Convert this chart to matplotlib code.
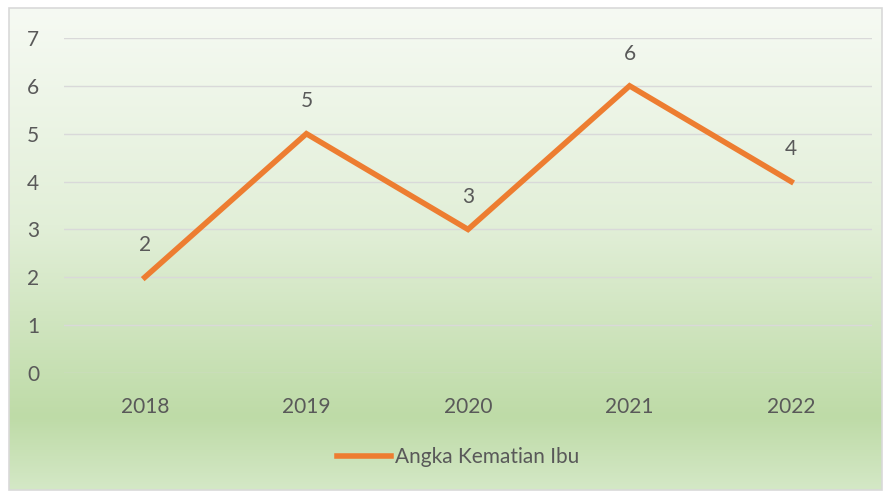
import numpy as np
import matplotlib.pyplot as plt
from matplotlib.colors import LinearSegmentedColormap
from matplotlib.patches import Rectangle

years = ["2018", "2019", "2020", "2021", "2022"]
deaths = [2, 5, 3, 6, 4]
series_name = "Angka Kematian Ibu"

plt.rcParams['font.family'] = ['Lato', 'DejaVu Sans']
text_color = "#595959"
line_color = "#ED7D31"

fig = plt.figure(figsize=(8.9, 4.93), dpi=100)

# gradient background inside the chart border
bg = fig.add_axes([0, 0, 1, 1], zorder=-10)
bg.set_xlim(0, 890)
bg.set_ylim(493, 0)
bg.axis("off")
cmap = LinearSegmentedColormap.from_list(
    "bg", [(0, "#f6faf3"), (0.45, "#e2efd8"), (0.85, "#bedba7"), (1.0, "#d4e8c6")])
grad = np.linspace(0, 1, 256).reshape(-1, 1)
bg.imshow(grad, cmap=cmap, extent=[9, 882, 490, 8], aspect="auto")
bg.add_patch(Rectangle((9, 8), 873, 482, fill=False, edgecolor="#d9d9d9", lw=1.2))

ax = fig.add_axes([64 / 890, 1 - 373 / 493, (872 - 64) / 890, (373 - 38) / 493])
ax.patch.set_alpha(0)
x = np.arange(len(years))
ax.plot(x, deaths, color=line_color, lw=4, solid_joinstyle="miter", label=series_name, zorder=3)
for xi, v in zip(x, deaths):
    ax.annotate(str(v), (xi, v), xytext=(0, 16), textcoords="offset points",
                ha="center", va="bottom", fontsize=15, color=text_color)

ax.set_xlim(-0.5, len(years) - 0.5)
ax.set_ylim(0, 7)
ax.set_yticks(range(0, 8))
ax.set_xticks(x)
ax.set_xticklabels(years)
ax.grid(axis="y", color="#d9d9d9", lw=1)
ax.set_axisbelow(True)
for s in ax.spines.values():
    s.set_visible(False)
ax.tick_params(length=0, labelsize=15, labelcolor=text_color)
ax.tick_params(axis="y", pad=18)
ax.tick_params(axis="x", pad=17)

fig.legend(loc="center", bbox_to_anchor=(458 / 890, 1 - 457 / 493), frameon=False,
           fontsize=15, labelcolor=text_color, handlelength=2.6, handletextpad=0.2)

fig.savefig("out.png", dpi=100)
